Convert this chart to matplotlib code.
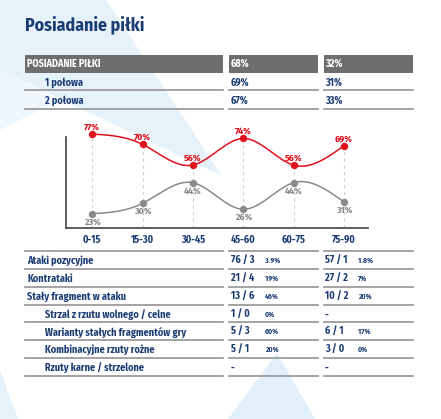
import numpy as np
import matplotlib.pyplot as plt
from matplotlib.patches import Polygon, Rectangle

# data
intervals = ['0-15', '15-30', '30-45', '45-60', '60-75', '75-90']
home_poss = [77, 70, 56, 74, 56, 69]
away_poss = [23, 30, 44, 26, 44, 31]

poss_labels = ['POSIADANIE PIŁKI', '1 połowa', '2 połowa']
poss_home = ['68%', '69%', '67%']
poss_away = ['32%', '31%', '33%']

stat_labels = ['Ataki pozycyjne', 'Kontrataki', 'Stały fragment w ataku',
               'Strzal z rzutu wolnego / celne', 'Warianty stałych fragmentów gry',
               'Kombinacyjne rzuty rożne', 'Rzuty karne / strzelone']
stat_sub = [False, False, False, True, True, True, True]
home_vals = ['76 / 3', '21 / 4', '13 / 6', '1 / 0', '5 / 3', '5 / 1', '-']
home_pct = ['3.9%', '19%', '46%', '0%', '60%', '20%', '']
away_vals = ['57 / 1', '27 / 2', '10 / 2', '-', '6 / 1', '3 / 0', '-']
away_pct = ['1.8%', '7%', '20%', '', '17%', '0%', '']

navy = '#1c3d74'
red = '#e0101c'
grey = '#8a8a8a'
line_c = '#9c9c9c'
font = ['Fira Sans Condensed', 'DejaVu Sans']
fw = 'bold'


def spline(x, y, n=200):
    # natural cubic spline, only used to draw the smooth line
    x = np.asarray(x, float); y = np.asarray(y, float)
    k = len(x); h = np.diff(x)
    A = np.zeros((k, k)); r = np.zeros(k)
    A[0, 0] = A[-1, -1] = 1
    for i in range(1, k - 1):
        A[i, i - 1] = h[i - 1]; A[i, i] = 2 * (h[i - 1] + h[i]); A[i, i + 1] = h[i]
        r[i] = 3 * ((y[i + 1] - y[i]) / h[i] - (y[i] - y[i - 1]) / h[i - 1])
    c = np.linalg.solve(A, r)
    xs = np.linspace(x[0], x[-1], n)
    idx = np.clip(np.searchsorted(x, xs) - 1, 0, k - 2)
    dx = xs - x[idx]
    b = (y[1:] - y[:-1]) / h - h * (2 * c[:-1] + c[1:]) / 3
    d = (c[1:] - c[:-1]) / (3 * h)
    ys = y[idx] + b[idx] * dx + c[idx] * dx ** 2 + d[idx] * dx ** 3
    return xs, ys


fig = plt.figure(figsize=(4.41, 4.19), dpi=100)
bg = fig.add_axes([0, 0, 1, 1])
bg.set_xlim(0, 441)
bg.set_ylim(419, 0)
bg.axis('off')

# background shapes
bg.add_patch(Polygon([(0, 0), (106, 0), (222, 176), (0, 70)], color='#e6f2fa', lw=0))
bg.add_patch(Polygon([(0, 70), (60, 100), (0, 130)], color='#eff7fc', lw=0))
bg.add_patch(Polygon([(277, 353), (228, 419), (315, 419)], color='#e0effa', lw=0))
bg.add_patch(Polygon([(0, 370), (18, 419), (0, 419)], color='#e6f2fa', lw=0))

bg.text(25, 25, 'Posiadanie piłki', color=navy, fontsize=12.8, fontweight=fw,
        family=font, va='center', ha='left')

cols = [(25, 223), (229, 318), (324, 413)]

# possession table
for x0, x1 in cols:
    bg.add_patch(Rectangle((x0, 55), x1 - x0, 18, color='#6e6e6e', lw=0))
for i, lab in enumerate(poss_labels):
    y = 64 + i * 18.5
    c = 'white' if i == 0 else navy
    bg.text(27 if i == 0 else 45, y, lab, color=c, fontsize=7.3, fontweight=fw,
            family=font, va='center')
    bg.text(231, y, poss_home[i], color=c, fontsize=7.3, fontweight=fw, family=font, va='center')
    bg.text(325, y, poss_away[i], color=c, fontsize=7.3, fontweight=fw, family=font, va='center')
    if i > 0:
        for x0, x1 in cols:
            bg.plot([x0, x1], [y + 8, y + 8], color=line_c, lw=1.3)

# stats table
for x0, x1 in cols:
    bg.plot([x0, x1], [251, 251], color=line_c, lw=1.3)
for i, lab in enumerate(stat_labels):
    y = 261 + i * 17.8
    bg.text(45 if stat_sub[i] else 27, y, lab, color=navy, fontsize=7.3, fontweight=fw,
            family=font, va='center')
    bg.text(231, y, home_vals[i], color=navy, fontsize=7.3, fontweight=fw, family=font, va='center')
    bg.text(265, y, home_pct[i], color=navy, fontsize=5.5, fontweight=fw, family=font, va='center')
    bg.text(325, y, away_vals[i], color=navy, fontsize=7.3, fontweight=fw, family=font, va='center')
    bg.text(358, y, away_pct[i], color=navy, fontsize=5.5, fontweight=fw, family=font, va='center')
    for x0, x1 in cols:
        bg.plot([x0, x1], [y + 8, y + 8], color=line_c, lw=1.3)

# line chart
ax = fig.add_axes([66 / 441, 1 - 228 / 419, 302 / 441, 91 / 419])
ax.patch.set_alpha(0)
x = np.arange(len(intervals))
ax.set_xlim(-0.52, 5.48)
ax.set_ylim(13.3, 75)
for s in ['top', 'right']:
    ax.spines[s].set_visible(False)
for s in ['left', 'bottom']:
    ax.spines[s].set_color('#444444')
    ax.spines[s].set_linewidth(1.2)
ax.set_yticks([])
ax.set_xticks(x)
ax.set_xticklabels(intervals, color=navy, fontsize=7.3, fontweight=fw, family=font)
ax.tick_params(axis='x', length=0, pad=5)

for i in x:
    ax.plot([i, i], [13.3, max(home_poss[i], away_poss[i])], color='#d0d0d0', lw=0.8,
            ls=(0, (3, 3)), clip_on=False, zorder=1)

for vals, col, off in [(home_poss, red, 5.0), (away_poss, grey, -6.0)]:
    xs, ys = spline(x, vals)
    ax.plot(xs, ys, color=col, lw=1.1, clip_on=False, zorder=2)
    ax.plot(x, vals, 'o', color=col, ms=4.3, clip_on=False, zorder=3)
    for i, v in zip(x, vals):
        ax.annotate('%d%%' % v, (i, v), xytext=(0, off),
                    textcoords='offset points', ha='center', va='center',
                    color=col, fontsize=7, fontweight=fw, family=font,
                    annotation_clip=False)

fig.savefig('out.png', dpi=100)
